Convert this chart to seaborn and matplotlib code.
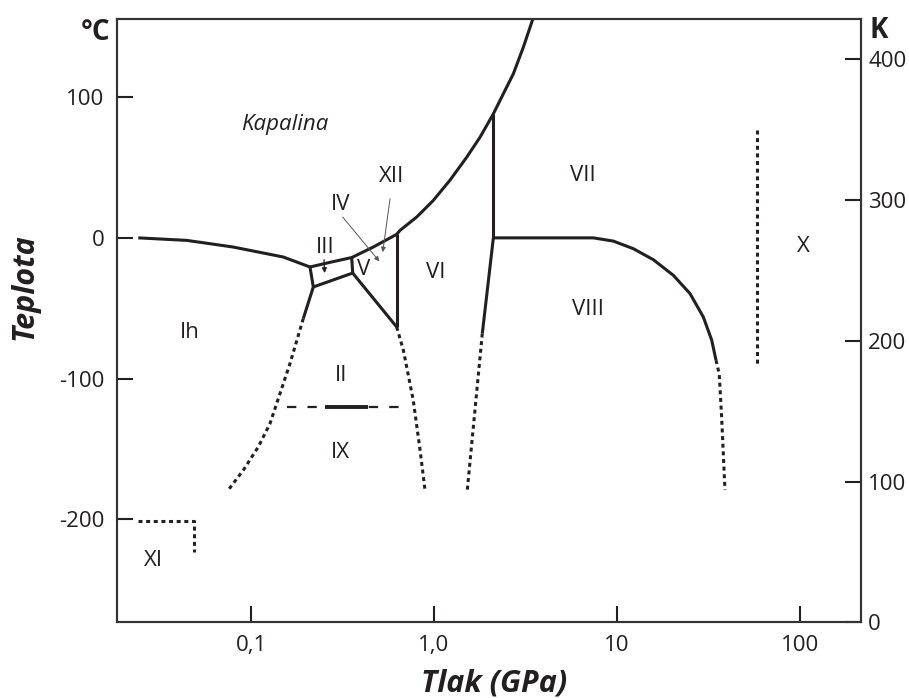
import numpy as np
import pandas as pd
import matplotlib
matplotlib.use("Agg")
import matplotlib.pyplot as plt
import seaborn as sns

sns.set_theme(style="white")
plt.rcParams['font.family'] = ['Open Sans', 'DejaVu Sans']

INK = '#231f20'

# ---- phase boundaries (pressure in GPa, temperature in degC) ----
ih_liq_P = [0.0242, 0.0446, 0.0797, 0.150, 0.210]
ih_liq_T = [0.0, -1.8, -6.5, -13.6, -20.7]

liq_P = [0.210, 0.270, 0.355, 0.466, 0.625, 0.652, 0.804, 0.991, 1.223, 1.509,
         1.784, 2.11, 2.391, 2.712, 3.076, 3.52]
liq_T = [-20.7, -17.4, -14.0, -6.5, 2.5, 5.3, 14.8, 26.6, 41.0, 57.3,
         71.5, 88.1, 102.3, 116.5, 135.4, 158.0]

ih_iii_P = [0.210, 0.219]
ih_iii_T = [-20.7, -34.9]

iii_ii_P = [0.219, 0.3595]
iii_ii_T = [-34.9, -25.0]

iii_v_P = [0.355, 0.3595]
iii_v_T = [-14.0, -25.0]

v_ii_P = [0.3595, 0.625]
v_ii_T = [-25.0, -63.3]

v_vi_P = [0.625, 0.625]
v_vi_T = [2.5, -63.3]

ih_ii_P = [0.219, 0.1931]
ih_ii_T = [-34.9, -57.3]
ih_ii_dot_P = [0.1931, 0.1633, 0.144, 0.1270, 0.1096, 0.0908, 0.0751]
ih_ii_dot_T = [-57.3, -89.3, -110.6, -131.9, -148.5, -165.0, -179.2]

ii_vi_dot_P = [0.625, 0.68, 0.770, 0.839, 0.893]
ii_vi_dot_T = [-63.3, -79.8, -115.3, -150.8, -179.2]

vi_vii_P = [2.11, 2.11]
vi_vii_T = [88.1, 0.0]

vi_viii_P = [2.11, 1.836]
vi_viii_T = [0.0, -68.0]
vi_viii_dot_P = [1.836, 1.52]
vi_viii_dot_T = [-68.0, -179.2]

vii_viii_P = [2.11, 4.88, 7.42, 9.55, 12.28, 15.79, 20.31, 25.06, 29.62, 32.93, 34.75]
vii_viii_T = [0.0, 0.0, 0.0, -2.3, -7.7, -15.5, -26.6, -39.6, -56.2, -72.7, -86.9]
vii_viii_dot_P = [34.75, 36.2, 37.3, 38.9]
vii_viii_dot_T = [-86.9, -96.8, -127.2, -179.2]

x_dot_P = [58.5, 58.5]
x_dot_T = [76.8, -89.3]

xi_dot_P = [0.0242, 0.0488, 0.0488]
xi_dot_T = [-201.0, -201.0, -223.0]

ii_ix_dash_P = [0.1566, 0.6665]
ii_ix_solid_P = [0.2537, 0.4377]
ii_ix_T = [-120.0, -120.0]

# ---- region labels ----
region_names = ['Ih', 'II', 'III', 'V', 'VI', 'VII', 'VIII', 'IX', 'X', 'XI']
region_P = [0.0464, 0.310, 0.254, 0.414, 1.025, 6.54, 6.96, 0.307, 105.0, 0.0295]
region_T = [-67.0, -97.6, -6.7, -22.4, -24.5, 44.4, -50.7, -152.2, -6.0, -228.9]

# pointer labels: name, label position, arrow start, arrow end
pointer_names = ['IV', 'XII']
pointer_label_P = [0.307, 0.589]
pointer_label_T = [23.8, 43.6]
pointer_start_P = [0.317, 0.575]
pointer_start_T = [14.8, 27.8]
pointer_end_P = [0.5026, 0.5245]
pointer_end_T = [-16.7, -10.1]

xticks = [0.1, 1.0, 10, 100]
xtick_labels = ['0,1', '1,0', '10', '100']
yticks_c = [-200, -100, 0, 100]
yticks_k = [0, 100, 200, 300, 400]

fig = plt.figure(figsize=(9.09, 6.98), dpi=100)
ax = fig.add_axes([116.7 / 909, 1 - 622.3 / 698, (861.3 - 116.7) / 909, (622.3 - 19) / 698])
ax.set_xscale('log')
ax.set_xlim(10 ** -1.734, 10 ** 2.335)
ax.set_ylim(-273.15, 155.5)

def draw(P, T, ls='-', lw=2.2, color=INK):
    df = pd.DataFrame({'P': P, 'T': T})
    sns.lineplot(data=df, x='P', y='T', sort=False, estimator=None, ax=ax,
                 color=color, lw=lw, linestyle=ls, solid_capstyle='butt',
                 dash_capstyle='butt', solid_joinstyle='round')

DOT = (0, (1.3, 1.2))
for P, T in [(ih_liq_P, ih_liq_T), (liq_P, liq_T), (ih_iii_P, ih_iii_T),
             (iii_ii_P, iii_ii_T), (iii_v_P, iii_v_T), (v_ii_P, v_ii_T),
             (v_vi_P, v_vi_T), (ih_ii_P, ih_ii_T), (vi_vii_P, vi_vii_T),
             (vi_viii_P, vi_viii_T), (vii_viii_P, vii_viii_T)]:
    draw(P, T)
for P, T in [(ih_ii_dot_P, ih_ii_dot_T), (ii_vi_dot_P, ii_vi_dot_T),
             (vi_viii_dot_P, vi_viii_dot_T), (vii_viii_dot_P, vii_viii_dot_T),
             (x_dot_P, x_dot_T), (xi_dot_P, xi_dot_T)]:
    draw(P, T, ls=DOT, lw=2.2)
draw(ii_ix_dash_P, ii_ix_T, ls=(0, (4.2, 5.0)), lw=1.6)
draw(ii_ix_solid_P, ii_ix_T, lw=2.8)

ax.set_xlabel('')
ax.set_ylabel('')

FS = 16
for name, p, t in zip(region_names, region_P, region_T):
    ax.text(p, t, name, ha='center', va='center', fontsize=FS, color=INK)
ax.text(0.153, 80.6, 'Kapalina', ha='center', va='center', fontsize=FS,
        style='italic', color=INK)

for name, lp, lt, sp, st, ep, et in zip(pointer_names, pointer_label_P, pointer_label_T,
                                         pointer_start_P, pointer_start_T,
                                         pointer_end_P, pointer_end_T):
    ax.text(lp, lt, name, ha='center', va='center', fontsize=FS, color=INK)
    ax.annotate('', xy=(ep, et), xytext=(sp, st),
                arrowprops=dict(arrowstyle='-|>', color='#555555', lw=0.7,
                                mutation_scale=7, shrinkA=0, shrinkB=0))
ax.annotate('', xy=(0.2525, -25.0), xytext=(0.2506, -15.5),
            arrowprops=dict(arrowstyle='-|>', color=INK, lw=0.9,
                            mutation_scale=7, shrinkA=0, shrinkB=0))

ax.set_xticks(xticks)
ax.set_xticklabels(xtick_labels)
ax.xaxis.set_minor_locator(matplotlib.ticker.NullLocator())
ax.set_yticks(yticks_c)
ax.set_yticklabels([str(v) for v in yticks_c])
ax.tick_params(axis='both', which='major', direction='in', length=11.5, width=1.5,
               color=INK, labelsize=FS, labelcolor=INK)
ax.tick_params(axis='x', pad=9, bottom=True, top=False)
ax.tick_params(axis='y', pad=9, left=True, right=False)

ax2 = ax.twinx()
ax2.set_ylim(0, 273.15 + 155.5)
ax2.set_yticks(yticks_k)
ax2.set_yticklabels([str(v) for v in yticks_k])
ax2.tick_params(axis='y', direction='in', length=11.5, width=1.5, color=INK,
                labelsize=FS, labelcolor=INK, pad=5, right=True, left=False)
ax2.grid(False)
ax.grid(False)

for a in (ax, ax2):
    for s in a.spines.values():
        s.set_color('#333333')
        s.set_linewidth(1.5)
        s.set_visible(True)

fig.text(95.5 / 909, 1 - 32.5 / 698, '°C', ha='center', va='center',
         fontsize=20, fontweight='bold', color=INK)
fig.text(869 / 909, 1 - 31 / 698, 'K', ha='left', va='center',
         fontsize=20, fontweight='bold', color=INK)
fig.text(25 / 909, 1 - 287 / 698, 'Teplota', ha='center', va='center',
         rotation=90, fontsize=22, fontweight='bold', style='italic', color=INK)
fig.text(494 / 909, 1 - 683 / 698, 'Tlak (GPa)', ha='center', va='center',
         fontsize=22, fontweight='bold', style='italic', color=INK)

fig.savefig('out.png', dpi=100, facecolor='white')
